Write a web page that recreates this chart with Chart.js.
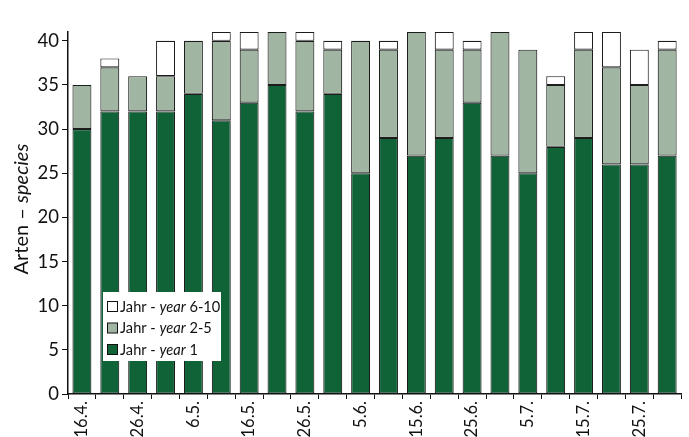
<!DOCTYPE html>
<html>
<head>
<meta charset="utf-8">
<script src="https://cdn.jsdelivr.net/npm/chart.js@4.4.1/dist/chart.umd.min.js"></script>
<style>
  html, body { margin: 0; padding: 0; background: #fff; }
  #wrap { width: 689px; height: 437px; }
</style>
</head>
<body>
<div id="wrap"><canvas id="speciesChart" width="689" height="437"></canvas></div>
<script>
// sampling dates, every 5 days; only every other one is labelled
const dates = ['16.4.', '21.4.', '26.4.', '1.5.', '6.5.', '11.5.', '16.5.', '21.5.', '26.5.', '31.5.', '5.6.',
    '10.6.', '15.6.', '20.6.', '25.6.', '30.6.', '5.7.', '10.7.', '15.7.', '20.7.', '25.7.', '30.7.'];

// species counts per age class
const year1 = [30, 32, 32, 32, 34, 31, 33, 35, 32, 34, 25, 29, 27, 29, 33, 27, 25, 28, 29, 26, 26, 27];
const year2to5 = [5, 5, 4, 4, 6, 9, 6, 6, 8, 5, 15, 10, 14, 10, 6, 14, 14, 7, 10, 11, 9, 12];
const year6to10 = [0, 1, 0, 4, 0, 1, 2, 0, 1, 1, 0, 1, 0, 2, 1, 0, 0, 1, 2, 4, 4, 1];

const yTicks = [0, 5, 10, 15, 20, 25, 30, 35, 40];

const FONT = 'Lato, "Open Sans", sans-serif';
const GREEN = '#0f6337';
const SAGE = '#a0b6a2';

function noZero(arr) {
    return arr.map(v => v === 0 ? null : v);
}

// draws a line of text made of normal / italic pieces
function drawRich(ctx, parts, x, y, size) {
    let cx = x;
    parts.forEach(p => {
        ctx.font = (p.italic ? 'italic ' : '') + size + 'px ' + FONT;
        ctx.fillText(p.text, cx, y);
        cx += ctx.measureText(p.text).width;
    });
    return cx - x;
}

function richWidth(ctx, parts, size) {
    let w = 0;
    parts.forEach(p => {
        ctx.font = (p.italic ? 'italic ' : '') + size + 'px ' + FONT;
        w += ctx.measureText(p.text).width;
    });
    return w;
}

const extras = {
    id: 'extras',
    afterDraw(chart) {
        const ctx = chart.ctx;
        const area = chart.chartArea;
        ctx.save();
        ctx.fillStyle = '#111';
        ctx.textBaseline = 'middle';
        ctx.textAlign = 'left';

        // y axis title
        const title = [{ text: 'Arten – ', italic: false }, { text: 'species', italic: true }];
        const tw = richWidth(ctx, title, 20);
        ctx.save();
        ctx.translate(22, 209);
        ctx.rotate(-Math.PI / 2);
        drawRich(ctx, title, -tw / 2, 0, 20);
        ctx.restore();

        // legend box
        const lx = area.left + 35, ly = 292;
        ctx.fillStyle = '#fff';
        ctx.fillRect(lx, ly, 118, 69);
        const items = [
            { color: '#ffffff', range: '6-10' },
            { color: SAGE, range: '2-5' },
            { color: GREEN, range: '1' }
        ];
        items.forEach((it, i) => {
            const cy = ly + 15 + i * 21.5;
            ctx.fillStyle = it.color;
            ctx.fillRect(lx + 4.5, cy - 5.5, 10, 10);
            ctx.strokeStyle = '#111';
            ctx.lineWidth = 1;
            ctx.strokeRect(lx + 4.5, cy - 5.5, 10, 10);
            ctx.fillStyle = '#111';
            drawRich(ctx, [
                { text: 'Jahr - ', italic: false },
                { text: 'year', italic: true },
                { text: ' ' + it.range, italic: false }
            ], lx + 17, cy, 14.6);
        });
        ctx.restore();
    }
};

const commonBar = {
    borderColor: '#1c1c1c',
    borderWidth: 1.1,
    borderSkipped: false,
    barPercentage: 0.68,
    categoryPercentage: 1.0
};

new Chart(document.getElementById('speciesChart'), {
    type: 'bar',
    data: {
        labels: dates,
        datasets: [
            Object.assign({ label: 'Jahr - year 1', data: noZero(year1), backgroundColor: GREEN }, commonBar),
            Object.assign({ label: 'Jahr - year 2-5', data: noZero(year2to5), backgroundColor: SAGE }, commonBar),
            Object.assign({ label: 'Jahr - year 6-10', data: noZero(year6to10), backgroundColor: '#ffffff' }, commonBar)
        ]
    },
    options: {
        responsive: false,
        animation: false,
        layout: { padding: { top: 32, right: 1, left: 0, bottom: 0 } },
        plugins: { legend: { display: false }, tooltip: { enabled: false } },
        scales: {
            x: {
                stacked: true,
                grid: { display: true, drawOnChartArea: false, drawTicks: true, tickLength: 5, color: '#111', offset: true },
                border: { display: true, color: '#111', width: 1.5 },
                ticks: {
                    autoSkip: false,
                    minRotation: 90,
                    maxRotation: 90,
                    padding: 2,
                    color: '#111',
                    font: { family: FONT, size: 16.5 },
                    callback: (v, i) => i % 2 === 0 ? dates[i] : ''
                },
                afterFit: s => { s.height = 43; }
            },
            y: {
                stacked: true,
                min: 0,
                max: 41,
                grid: { display: true, drawOnChartArea: false, drawTicks: true, tickLength: 6, color: '#111' },
                border: { display: true, color: '#111', width: 1.5 },
                afterBuildTicks: s => { s.ticks = yTicks.map(v => ({ value: v })); },
                ticks: {
                    padding: 3,
                    color: '#111',
                    font: { family: FONT, size: 18.5 }
                },
                afterFit: s => { s.width = 68; }
            }
        }
    },
    plugins: [extras]
});
</script>
</body>
</html>
